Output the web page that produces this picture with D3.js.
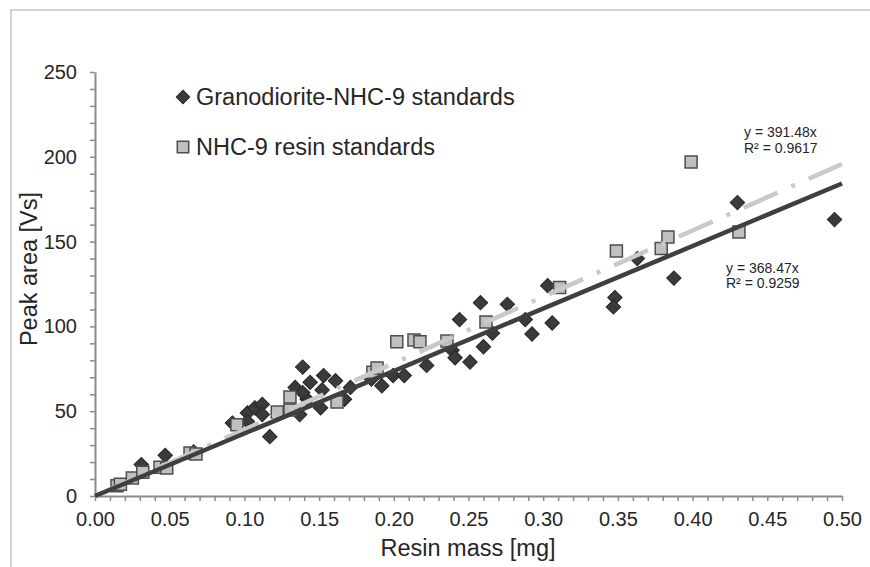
<!DOCTYPE html>
<html><head><meta charset="utf-8">
<script src="https://cdn.jsdelivr.net/npm/d3@7"></script>
<style>body{margin:0;background:#fff}svg{display:block;font-family:"Liberation Sans",Arial,sans-serif}</style>
</head><body>
<svg id="c" width="870" height="567"></svg>
<script>
// ---- data ----
const seriesNames = ["Granodiorite-NHC-9 standards", "NHC-9 resin standards"];
const granoX = [0.031,0.047,0.066,0.092,0.102,0.107,0.112,0.112,0.102,0.117,0.139,0.153,0.161,0.144,0.134,0.152,0.142,0.139,0.151,0.137,0.167,0.171,0.185,0.192,0.1995,0.207,0.222,0.239,0.241,0.244,0.251,0.258,0.260,0.266,0.276,0.288,0.2925,0.303,0.306,0.348,0.347,0.363,0.3875,0.430,0.495];
const granoY = [18.5,24,26,43,49,52,54,48,44,35,76,71,68,67,64,62.5,57,61,52,48,57,64,69,65,71,71,77,86,81.5,104,79,114,88,96,113,104,95.5,124,102,117,111.5,140,128.5,173,163];
const resinX = [0.0147,0.017,0.025,0.032,0.0435,0.048,0.0636,0.0676,0.095,0.122,0.1305,0.1305,0.162,0.186,0.1888,0.202,0.2135,0.2175,0.2356,0.2617,0.311,0.349,0.379,0.3835,0.399,0.431];
const resinY = [6,7,10.6,14,17,16.5,25.4,24.8,42,49.5,50.7,58.4,55.4,73,75.5,91,92,91,91.4,102.6,123,144.5,146,152.7,197,155.7];
const slopes = [368.47, 391.48];
const r2 = [0.9259, 0.9617];
const xTicks = [0,0.05,0.10,0.15,0.20,0.25,0.30,0.35,0.40,0.45,0.50];
const yTicks = [0,50,100,150,200,250];
const xTitle = "Resin mass [mg]";
const yTitle = "Peak area [Vs]";

const svg = d3.select("#c");
// outer frame
svg.append("rect").attr("x",11).attr("y",10).attr("width",900).attr("height",600)
  .attr("fill","none").attr("stroke","#c4c4c4").attr("stroke-width",1.5);

const x = d3.scaleLinear().domain([0,0.5]).range([95,842]);
const y = d3.scaleLinear().domain([0,250]).range([496,72]);

const axisCol = "#8a8a8a", textCol = "#262626";
const xMinor = d3.range(0,51).map(i=>i/100);
const yMinor = d3.range(0,26).map(i=>i*10);
const isMajX = d => xTicks.some(t=>Math.abs(t-d)<1e-9);
const isMajY = d => yTicks.includes(d);

const gx = svg.append("g").attr("transform","translate(0,496)")
  .call(d3.axisBottom(x).tickValues(xMinor).tickSize(5).tickSizeOuter(0).tickPadding(11)
    .tickFormat(d=>isMajX(d)?d3.format(".2f")(d):""));
const gy = svg.append("g").attr("transform","translate(95,0)")
  .call(d3.axisLeft(y).tickValues(yMinor).tickSize(5).tickSizeOuter(0).tickPadding(13)
    .tickFormat(d=>isMajY(d)?d:""));
[gx,gy].forEach(g=>{
  g.select(".domain").attr("stroke",axisCol).attr("stroke-width",2);
  g.selectAll(".tick line").attr("stroke",axisCol).attr("stroke-width",1.5);
  g.selectAll(".tick text").attr("fill",textCol).style("font-size","20px").style("font-family","Liberation Sans, Arial, sans-serif");
});

// titles
svg.append("text").attr("x",468).attr("y",556).attr("text-anchor","middle")
  .attr("fill",textCol).style("font-size","23.5px").text(xTitle);
svg.append("text").attr("transform","translate(37,269) rotate(-90)").attr("text-anchor","middle")
  .attr("fill",textCol).style("font-size","23.5px").text(yTitle);

const grano = granoX.map((v,i)=>({x:v,y:granoY[i]}));
const resin = resinX.map((v,i)=>({x:v,y:resinY[i]}));

const diamond = d3.symbol(d3.symbolSquare, 104)();
const square = d3.symbol(d3.symbolSquare, 144)();

svg.append("g").selectAll("path").data(grano).join("path")
  .attr("d",diamond).attr("transform",d=>`translate(${x(d.x)},${y(d.y)}) rotate(45)`)
  .attr("fill","#3b3b3b").attr("stroke","#262626").attr("stroke-width",1);
svg.append("g").selectAll("path").data(resin).join("path")
  .attr("d",square).attr("transform",d=>`translate(${x(d.x)},${y(d.y)})`)
  .attr("fill","#c0c0c0").attr("stroke","#4d4d4d").attr("stroke-width",1.5);

// trend lines
const line = d3.line().x(d=>x(d[0])).y(d=>y(d[1]));
svg.append("path").attr("d",line([[0,0],[0.5,0.5*slopes[1]]]))
  .attr("fill","none").attr("stroke","#c9c9c9").attr("stroke-width",4.5)
  .attr("stroke-dasharray","37,15,4,15");
svg.append("path").attr("d",line([[0,0],[0.5,0.5*slopes[0]]]))
  .attr("fill","none").attr("stroke","#3f3f3f").attr("stroke-width",4.5);

// equations
const eq = svg.append("g").attr("fill",textCol).style("font-size","14px");
eq.append("text").attr("x",744).attr("y",137).text(`y = ${slopes[1]}x`);
eq.append("text").attr("x",744).attr("y",153).text(`R² = ${r2[1]}`);
eq.append("text").attr("x",726).attr("y",273).text(`y = ${slopes[0]}x`);
eq.append("text").attr("x",726).attr("y",288).text(`R² = ${r2[0]}`);

// legend
const lg = svg.append("g");
lg.append("path").attr("d",d3.symbol(d3.symbolSquare,90)()).attr("transform","translate(183,97) rotate(45)")
  .attr("fill","#3b3b3b").attr("stroke","#262626");
lg.append("path").attr("d",d3.symbol(d3.symbolSquare,130)()).attr("transform","translate(183,147)")
  .attr("fill","#c0c0c0").attr("stroke","#4d4d4d").attr("stroke-width",1.5);
lg.append("text").attr("x",196).attr("y",105).attr("fill",textCol).style("font-size","23.5px").text(seriesNames[0]);
lg.append("text").attr("x",196).attr("y",155).attr("fill",textCol).style("font-size","23.5px").text(seriesNames[1]);
</script>
</body></html>
